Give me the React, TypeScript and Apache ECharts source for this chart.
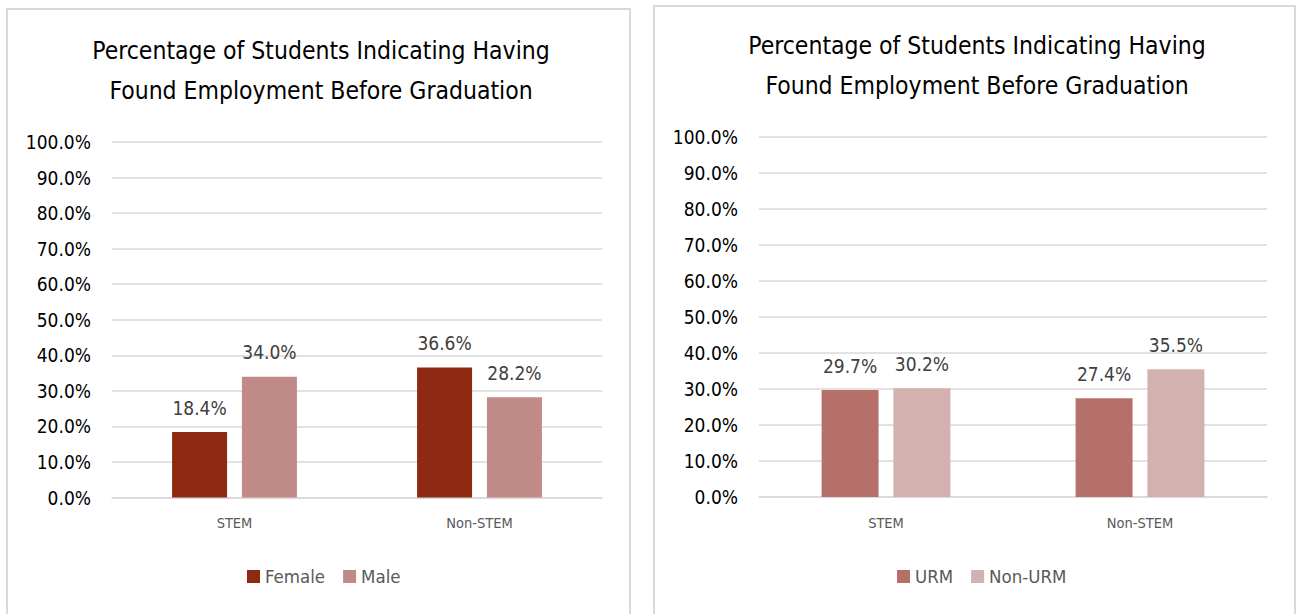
import React, { useEffect, useRef } from "react";
import * as echarts from "echarts";

const categories = ["STEM", "Non-STEM"];
const titleText = "Percentage of Students Indicating Having\nFound Employment Before Graduation";
const femaleValues = [18.4, 36.6];
const maleValues = [34.0, 28.2];
const urmValues = [29.7, 27.4];
const nonUrmValues = [30.2, 35.5];

const FONT = "'DejaVu Sans Condensed', 'DejaVu Sans', sans-serif";

export default function App() {
  const ref = useRef<HTMLDivElement>(null);
  useEffect(() => {
    if (!ref.current) return;
    const chart = echarts.init(ref.current, null, { renderer: "svg" });
    const yAxisBase = (gridIndex: number) => ({
      type: "value",
      gridIndex,
      min: 0,
      max: 100,
      interval: 10,
      axisLine: { show: false },
      axisTick: { show: false },
      splitLine: { lineStyle: { color: "#d9d9d9", width: 1.5 } },
      axisLabel: {
        formatter: (v: number) => v.toFixed(1) + "%",
        color: "#000",
        fontFamily: FONT,
        fontSize: 19,
        margin: 21,
      },
    });
    const xAxisBase = (gridIndex: number) => ({
      type: "category",
      gridIndex,
      data: categories,
      axisLine: { lineStyle: { color: "#d9d9d9", width: 1.5 } },
      axisTick: { show: false },
      axisLabel: { color: "#595959", fontFamily: FONT, fontSize: 14.5, margin: 18 },
    });
    const label = {
      show: true,
      position: "top",
      distance: 15,
      color: "#404040",
      fontFamily: FONT,
      fontSize: 19,
      formatter: (p: any) => p.value.toFixed(1) + "%",
    };
    const titleStyle = { color: "#000", fontFamily: FONT, fontSize: 24.5, fontWeight: "normal", lineHeight: 40 };
    const legendText = { color: "#595959", fontFamily: FONT, fontSize: 18.5 };
    chart.setOption({
      animation: false,
      backgroundColor: "#fff",
      graphic: [
        { type: "rect", shape: { x: 7, y: 9, width: 623, height: 640 }, style: { fill: "none", stroke: "#d9d9d9", lineWidth: 2 } },
        { type: "rect", shape: { x: 654, y: 6, width: 641, height: 640 }, style: { fill: "none", stroke: "#d9d9d9", lineWidth: 2 } },
      ],
      title: [
        { text: titleText, left: 316, top: 25, textAlign: "center", textStyle: titleStyle },
        { text: titleText, left: 972, top: 20, textAlign: "center", textStyle: titleStyle },
      ],
      legend: [
        {
          data: ["Female", "Male"],
          left: 242,
          top: 562,
          itemWidth: 13,
          itemHeight: 13,
          itemGap: 18,
          icon: "rect",
          textStyle: legendText,
        },
        {
          data: ["URM", "Non-URM"],
          left: 892,
          top: 562,
          itemWidth: 13,
          itemHeight: 13,
          itemGap: 18,
          icon: "rect",
          textStyle: legendText,
        },
      ],
      grid: [
        { left: 112, top: 142, width: 490, height: 355.5 },
        { left: 759, top: 137, width: 508, height: 360 },
      ],
      xAxis: [xAxisBase(0), xAxisBase(1)],
      yAxis: [yAxisBase(0), yAxisBase(1)],
      series: [
        { name: "Female", type: "bar", xAxisIndex: 0, yAxisIndex: 0, data: femaleValues, barWidth: 55, barGap: "27%", itemStyle: { color: "#8e2a11" }, label },
        { name: "Male", type: "bar", xAxisIndex: 0, yAxisIndex: 0, data: maleValues, barWidth: 55, barGap: "27%", itemStyle: { color: "#c08a86" }, label },
        { name: "URM", type: "bar", xAxisIndex: 1, yAxisIndex: 1, data: urmValues, barWidth: 57, barGap: "26%", itemStyle: { color: "#b5706a" }, label },
        { name: "Non-URM", type: "bar", xAxisIndex: 1, yAxisIndex: 1, data: nonUrmValues, barWidth: 57, barGap: "26%", itemStyle: { color: "#d3b1ae" }, label },
      ],
    });
    return () => chart.dispose();
  }, []);
  return (
    <div
      ref={ref}
      style={{ position: "fixed", left: 0, top: 0, width: 1297, height: 614, background: "#fff" }}
    />
  );
}
